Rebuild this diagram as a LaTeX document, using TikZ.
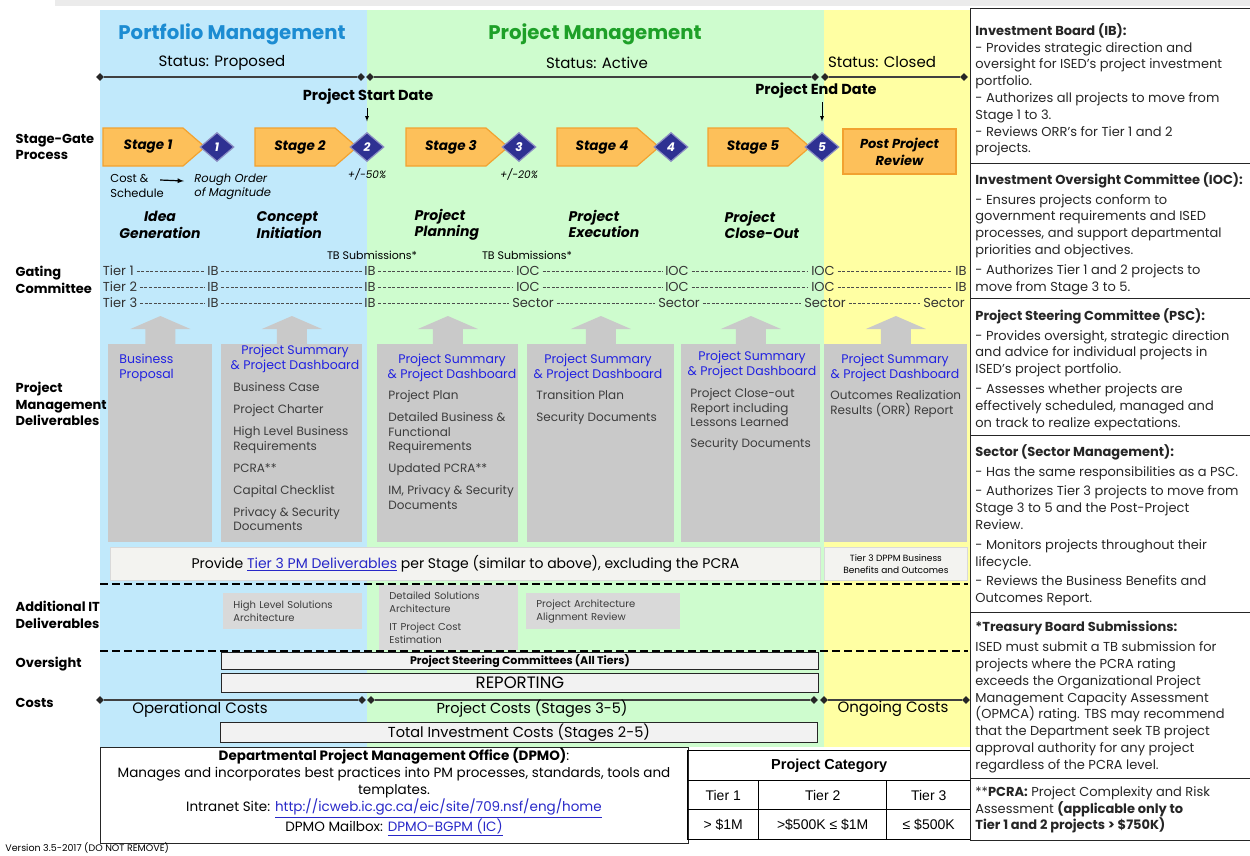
\documentclass[tikz,border=0pt]{standalone}
\usepackage{fontspec}
\setmainfont{Poppins}
\newfontfamily\arialfont{Liberation Sans}
\usetikzlibrary{shapes.geometric,calc}

\definecolor{pfblue}{RGB}{193,233,251}
\definecolor{pmgreen}{RGB}{206,252,206}
\definecolor{clyellow}{RGB}{255,255,163}
\definecolor{pftitle}{RGB}{28,140,210}
\definecolor{pmtitle}{RGB}{30,160,40}
\definecolor{stagefill}{RGB}{253,192,90}
\definecolor{stageline}{RGB}{242,162,48}
\definecolor{gatenavy}{RGB}{46,49,146}
\definecolor{delgrey}{RGB}{201,201,201}
\definecolor{itgrey}{RGB}{217,217,217}
\definecolor{delblue}{RGB}{34,34,225}
\definecolor{deltext}{RGB}{60,60,60}
\definecolor{barfill}{RGB}{243,243,240}
\definecolor{linkblue}{RGB}{40,40,200}

\newcommand{\fsz}[2]{\fontsize{#1}{#2}\selectfont}

\begin{document}
\begin{tikzpicture}[x=1pt,y=-1pt,thick]
    \tikzstyle{tick}=[diamond,fill=black!85,inner sep=0pt,minimum width=8pt,minimum height=8pt]
    \tikzstyle{tline}=[line width=1.6pt,black!75]
    \tikzstyle{chev}=[fill=stagefill,draw=stageline,line width=1.2pt,line join=miter]
    \tikzstyle{stagetxt}=[inner sep=0pt,font=\fsz{13.5}{16}\bfseries\itshape]
    \tikzstyle{pprbox}=[rectangle,fill=stagefill,draw=stageline,line width=1.6pt,minimum width=113pt,minimum height=45pt,inner sep=0pt,align=center,font=\fsz{13}{17}\bfseries\itshape]
    \tikzstyle{gate}=[diamond,fill=gatenavy,draw=gatenavy!55,line width=1.2pt,minimum width=34pt,minimum height=29pt,inner sep=0pt,text=white,font=\fsz{12}{14}\bfseries\itshape]
    \tikzstyle{rowlbl}=[anchor=west,align=left,font=\fsz{13}{16.5}\bfseries]
    \tikzstyle{phase}=[align=left,font=\fsz{14}{16.5}\bfseries\itshape]
    \tikzstyle{tier}=[inner sep=2.5pt,text=black!80,font=\fsz{13}{15}]
    \tikzstyle{tdash}=[thin,black!70,dash pattern=on 3pt off 1.6pt]
    \tikzstyle{delcol}=[anchor=north west,fill=delgrey,inner sep=0pt]
    \tikzstyle{delhead}=[anchor=north,align=center,inner sep=0pt,text=delblue,font=\fsz{12.5}{15}]
    \tikzstyle{delitem}=[anchor=north west,align=left,inner sep=0pt,text=deltext,font=\fsz{12}{14.5}]
    \tikzstyle{itbox}=[anchor=north west,fill=itgrey,inner xsep=10pt,inner ysep=0pt,align=left,text=deltext,font=\fsz{10}{12.5}]
    \tikzstyle{barbox}=[anchor=north west,fill=barfill,draw=black!15,line width=0.8pt,inner sep=0pt]
    \tikzstyle{sepline}=[line width=1.8pt,dash pattern=on 8pt off 4pt]
    \tikzstyle{ovbox}=[anchor=north west,fill=black!5,draw=black!85,line width=0.9pt,inner sep=0pt,minimum width=597pt]
    \tikzstyle{infobox}=[anchor=north west,draw=black!85,line width=1.4pt,inner sep=0pt]
    \tikzstyle{infotext}=[anchor=north west,align=left,inner sep=0pt,text=black!85,font=\fsz{13}{16.8}]
    \tikzstyle{cell}=[anchor=north west,draw=black,line width=1.4pt,inner sep=0pt,font=\arialfont\fsz{14}{16}]

    \useasboundingbox (0,0) rectangle (1250,855);

    % background columns
    \fill[black!8] (55,0) rectangle (1250,6);
    \fill[pfblue] (100,10) rectangle (367,747);
    \fill[pmgreen] (367,10) rectangle (824,747);
    \fill[clyellow] (824,10) rectangle (970,747);

    % headers and status line
    \node[text=pftitle,font=\fsz{19.7}{24}\bfseries] (pftitle) at (232,34) {Portfolio Management};
    \node[text=pmtitle,font=\fsz{19.7}{24}\bfseries] (pmtitle) at (595,34) {Project Management};
    \node[font=\fsz{15}{18}] (stprop) at (222,63) {Status: Proposed};
    \node[font=\fsz{15}{18}] (stact) at (597,63) {Status: Active};
    \node[font=\fsz{15}{18}] (stclo) at (882,62) {Status: Closed};
    \foreach \nm/\x in {t1/100,t2/361,t3/370,t4/815,t5/825,t6/964}
        \node[tick] (\nm) at (\x,77) {};
    \draw[tline] (t1) -- (t2);
    \draw[tline] (t3) -- (t4);
    \draw[tline] (t5) -- (t6);

    % row labels
    \node[rowlbl] (rl1) at (12,147) {Stage-Gate\\Process};
    \node[rowlbl] (rl2) at (12,280) {Gating\\Committee};
    \node[rowlbl] (rl3) at (12,404) {Project\\Management\\Deliverables};
    \node[rowlbl] (rl4) at (12,615) {Additional IT\\Deliverables};
    \node[rowlbl] (rl5) at (12,664) {Oversight};
    \node[rowlbl] (rl6) at (12,703) {Costs};

    % stage-gate process
    \foreach \i/\lx/\dx in {1/103/217,2/255/367,3/406/519,4/557/671,5/708/822} {
        \filldraw[chev] (\lx,128) -- ++(80,0) -- ++(22,19) -- ++(-22,19) -- ++(-80,0) -- cycle;
        \node[stagetxt] (s\i) at (\lx+45,147) {Stage \i};
        \node[gate] (g\i) at (\dx,147) {\i};
    }
    \node[pprbox] (ppr) at (899.5,151.5) {Post Project\\Review};

    \node[font=\fsz{14.5}{17}\bfseries] (pstart) at (368,97) {Project Start Date};
    \node[font=\fsz{14.5}{17}\bfseries] (pend) at (816,91) {Project End Date};
    \draw[-latex,shorten >=10.5pt] (pstart.south -| g2.north) -- (g2.north);
    \draw[-latex,shorten >=10.5pt] (pend.south -| g5.north) -- (g5.north);

    \node[font=\fsz{10.5}{12}\itshape] (acc2) at (367,174) {+/-50\%};
    \node[font=\fsz{10.5}{12}\itshape] (acc3) at (519,174) {+/-20\%};
    \node[anchor=west,align=left,inner sep=0pt,font=\fsz{11.5}{14.5}] (cost) at (110,186) {Cost \&\\Schedule};
    \node[anchor=west,align=left,inner sep=0pt,font=\fsz{11.5}{14.5}\itshape] (rom) at (194,187) {Rough Order\\of Magnitude};
    \draw[-latex,very thick] ($(cost.east)+(-4,-6)$) -- ($(rom.west)+(-10,-6)$);

    \node[phase,align=center] (ph1) at (160,225) {Idea\\Generation};
    \node[phase,anchor=west] (ph2) at (253,225) {Concept\\Initiation};
    \node[phase,anchor=west] (ph3) at (411,225) {Project\\Planning};
    \node[phase,anchor=west] (ph4) at (565,224) {Project\\Execution};
    \node[phase,anchor=west] (ph5) at (721,225) {Project\\Close-Out};

    % gating committee
    \node[font=\fsz{11}{13}] (tb1) at (372,255) {TB Submissions*};
    \node[font=\fsz{11}{13}] (tb2) at (527,255) {TB Submissions*};
    \foreach \rw/\y in {1/271,2/287} {
        \node[tier,anchor=west] (r\rw-0) at (100,\y) {Tier \rw};
        \foreach \k/\x/\lbl in {1/213/IB,2/370/IB,3/528/IOC,4/677/IOC,5/823/IOC,6/961/IB}
            \node[tier] (r\rw-\k) at (\x,\y) {\lbl};
        \foreach \k [count=\j from 0] in {1,...,6}
            \draw[tdash] (r\rw-\j) -- (r\rw-\k);
    }
    \node[tier,anchor=west] (r3-0) at (100,303) {Tier 3};
    \foreach \k/\x/\lbl in {1/213/IB,2/370/IB,3/533/Sector,4/679/Sector,5/825/Sector,6/944/Sector}
        \node[tier] (r3-\k) at (\x,303) {\lbl};
    \foreach \k [count=\j from 0] in {1,...,6}
        \draw[tdash] (r3-\j) -- (r3-\k);

    % deliverables
    \foreach \nm/\x/\w in {col1/108/104,col2/221/141,col3/377/141,col4/527/147,col5/681/139,col6/824/143} {
        \node[delcol,minimum width=\w pt,minimum height=198pt] (\nm) at (\x,344) {};
        \fill[delgrey] ($(\nm.north)+(-15,0)$) -- ++(0,-15) -- ++(-15,0) -- ++(30,-13)
            -- ++(30,13) -- ++(-15,0) -- ++(0,15) -- cycle;
    }
    \node[delhead,anchor=north west,align=left] (bp) at (119,354) {Business\\Proposal};
    \node[delhead] (h2) at (295,345) {Project Summary\\\& Project Dashboard};
    \node[delhead] (h3) at (452,354) {Project Summary\\\& Project Dashboard};
    \node[delhead] (h4) at (598,354) {Project Summary\\\& Project Dashboard};
    \node[delhead] (h5) at (752,351) {Project Summary\\\& Project Dashboard};
    \node[delhead] (h6) at (895,354) {Project Summary\\\& Project Dashboard};

    \node[delitem] (d2) at (233,382) {Business Case\\[7.5pt]Project Charter\\[7.5pt]High Level Business\\Requirements\\[7.5pt]PCRA**\\[7.5pt]Capital Checklist\\[7.5pt]Privacy \& Security\\Documents};
    \node[delitem] (d3) at (388,390) {Project Plan\\[7.5pt]Detailed Business \&\\Functional\\Requirements\\[7.5pt]Updated PCRA**\\[7.5pt]IM, Privacy \& Security\\Documents};
    \node[delitem] (d4) at (536,390) {Transition Plan\\[7.5pt]Security Documents};
    \node[delitem] (d5) at (690,388) {Project Close-out\\Report including\\Lessons Learned\\[6.5pt]Security Documents};
    \node[delitem] (d6) at (830,390) {Outcomes Realization\\Results (ORR) Report};

    \node[barbox,minimum width=710pt,minimum height=33pt,font=\fsz{14}{17}] (t3bar) at (110,547)
        {Provide \textcolor{linkblue}{\underline{Tier 3 PM Deliverables}} per Stage (similar to above), excluding the PCRA};
    \node[barbox,minimum width=143pt,minimum height=33pt,align=center,font=\fsz{9}{12.5}] (dppm) at (824,547)
        {Tier 3 DPPM Business\\Benefits and Outcomes};

    \draw[sepline] (100,584) -- (968,584);
    \draw[sepline] (100,651) -- (968,651);

    % additional IT deliverables
    \node[itbox,minimum width=139pt,minimum height=36pt,text width=119pt] (it1) at (223,593) {High Level Solutions\\Architecture};
    \node[itbox,minimum width=139pt,minimum height=65pt,text width=119pt] (it2) at (379,585) {Detailed Solutions\\Architecture\\[6pt]IT Project Cost\\Estimation};
    \node[itbox,minimum width=154pt,minimum height=36pt,text width=134pt] (it3) at (526,593) {Project Architecture\\Alignment Review};

    % oversight
    \node[ovbox,minimum height=17pt,font=\fsz{11}{13}\bfseries] (psc) at (221,652) {Project Steering Committees (All Tiers)};
    \node[ovbox,minimum height=19pt,font=\fsz{16.5}{18}] (rep) at (221,673) {REPORTING};

    % costs
    \foreach \nm/\x in {c1/100,c2/362,c3/371,c4/814,c5/824,c6/966}
        \node[tick] (\nm) at (\x,700) {};
    \draw[tline] (c1) -- (c2);
    \draw[tline] (c3) -- (c4);
    \draw[tline] (c5) -- (c6);
    \node[font=\fsz{15}{18}] (opc) at (200,710) {Operational Costs};
    \node[font=\fsz{14.5}{18}] (prc) at (532,709) {Project Costs (Stages 3-5)};
    \node[font=\fsz{15}{18}] (ogc) at (893,709) {Ongoing Costs};
    \node[ovbox,minimum height=20pt,font=\fsz{14.5}{18}] (tic) at (220,722) {Total Investment Costs (Stages 2-5)};

    % DPMO
    \node[infobox,minimum width=588pt,minimum height=96pt] (dpmo) at (100,747) {};
    \node[align=center,inner sep=0pt,font=\fsz{13.5}{17}] (dpmotxt) at (394,792)
        {\textbf{Departmental Project Management Office (DPMO)}:\\
         Manages and incorporates best practices into PM processes, standards, tools and\\
         templates.\\
         Intranet Site: \textcolor{linkblue}{\underline{http://icweb.ic.gc.ca/eic/site/709.nsf/eng/home}}\\
         DPMO Mailbox: \textcolor{linkblue}{\underline{DPMO-BGPM (IC)}}};
    \node[anchor=west,inner sep=0pt,font=\fsz{9.5}{11}] (ver) at (5,848) {Version 3.5-2017 (DO NOT REMOVE)};

    % project category
    \node[cell,minimum width=283pt,minimum height=30pt,font=\arialfont\fsz{14.5}{17}\bfseries] (pcat) at (687,750) {Project Category};
    \node[cell,minimum width=71pt,minimum height=29pt] (t1h) at (687,780) {Tier 1};
    \node[cell,minimum width=128pt,minimum height=29pt] (t2h) at (758,780) {Tier 2};
    \node[cell,minimum width=84pt,minimum height=29pt] (t3h) at (886,780) {Tier 3};
    \node[cell,minimum width=71pt,minimum height=30pt] (t1v) at (687,809) {> \$1M};
    \node[cell,minimum width=128pt,minimum height=30pt] (t2v) at (758,809) {>\$500K ≤ \$1M};
    \node[cell,minimum width=84pt,minimum height=30pt] (t3v) at (886,809) {≤ \$500K};

    % committee descriptions
    \foreach \nm/\y/\h in {ibbox/8/155,iocbox/163/135,pscbox/298/137,secbox/435/177,tbsbox/612/166,pcrabox/778/62}
        \node[infobox,minimum width=284pt,minimum height=\h pt] (\nm) at (970,\y) {};
    \node[infotext] (ibtxt) at (975,23) {\textbf{Investment Board (IB):}\\
        - Provides strategic direction and\\
        oversight for ISED's project investment\\
        portfolio.\\
        - Authorizes all projects to move from\\
        Stage 1 to 3.\\
        - Reviews ORR's for Tier 1 and 2\\
        projects.};
    \node[infotext] (ioctxt) at (975,172) {\textbf{Investment Oversight Committee (IOC):}\\[3pt]
        - Ensures projects conform to\\
        government requirements and ISED\\
        processes, and support departmental\\
        priorities and objectives.\\[3pt]
        - Authorizes Tier 1 and 2 projects to\\
        move from Stage 3 to 5.};
    \node[infotext] (psctxt) at (975,308) {\textbf{Project Steering Committee (PSC):}\\[3pt]
        - Provides oversight, strategic direction\\
        and advice for individual projects in\\
        ISED's project portfolio.\\[3pt]
        - Assesses whether projects are\\
        effectively scheduled, managed and\\
        on track to realize expectations.};
    \node[infotext] (sectxt) at (975,444) {\textbf{Sector (Sector Management):}\\[3pt]
        - Has the same responsibilities as a PSC.\\[3pt]
        - Authorizes Tier 3 projects to move from\\
        Stage 3 to 5 and the Post-Project\\
        Review.\\[3pt]
        - Monitors projects throughout their\\
        lifecycle.\\[3pt]
        - Reviews the Business Benefits and\\
        Outcomes Report.};
    \node[infotext] (tbstxt) at (975,621) {\textbf{*Treasury Board Submissions:}\\[3pt]
        ISED must submit a TB submission for\\
        projects where the PCRA rating\\
        exceeds the Organizational Project\\
        Management Capacity Assessment\\
        (OPMCA) rating. TBS may recommend\\
        that the Department seek TB project\\
        approval authority for any project\\
        regardless of the PCRA level.};
    \node[infotext] (pcratxt) at (975,786) {**\textbf{PCRA:} Project Complexity and Risk\\
        Assessment \textbf{(applicable only to}\\
        \textbf{Tier 1 and 2 projects > \$750K)}};
\end{tikzpicture}
\end{document}
